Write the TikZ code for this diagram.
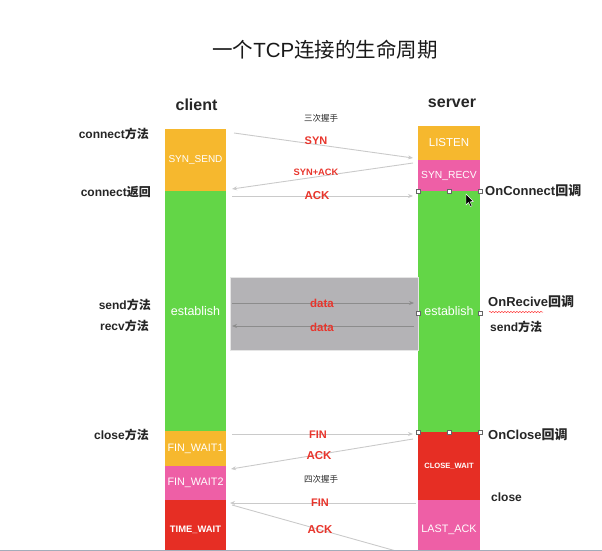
\documentclass[tikz,border=0pt]{standalone}
\usepackage{fontspec}
\setmainfont{Liberation Sans}
\newfontfamily\cjk{Noto Sans CJK SC}
\usepackage{tikz}
\usepackage{xcolor}
\usetikzlibrary{arrows.meta,decorations.pathmorphing}
\newcommand{\zh}[1]{{\cjk #1}}
\newcommand{\fs}[1]{\fontsize{#1}{#1}\selectfont}
\definecolor{stOrange}{HTML}{F6B82E}
\definecolor{stPink}{HTML}{EE5FA6}
\definecolor{stGreen}{HTML}{63D647}
\definecolor{stRed}{HTML}{E62E24}
\definecolor{boxGrey}{HTML}{B4B3B6}
\definecolor{msgRed}{HTML}{E8352C}
\definecolor{lineGrey}{HTML}{CACACA}
\definecolor{dataGrey}{HTML}{8C8C8C}
\definecolor{frameGrey}{HTML}{A3ACBA}
\tikzset{
  st/.style={inner sep=0,outer sep=0,minimum width=61pt,text=white,font=\fs{10}},
  msg/.style={draw=lineGrey,line width=0.9pt,-{Stealth[length=5pt,width=4pt]}},
  lbl/.style={text=msgRed,font=\bfseries\fs{11},inner sep=1pt},
  side/.style={text=black!85,font=\bfseries\fs{12},inner sep=1pt},
  handle/.style={draw=black!60,fill=white,line width=0.5pt,minimum size=4pt,inner sep=0,outer sep=0}
}
\begin{document}
\begin{tikzpicture}[x=1pt,y=-1pt]
\useasboundingbox (0,0) rectangle (602,551);
\clip (0,0) rectangle (602,551);
\node[font=\fs{20.5},text=black!90] (title) at (325,50) {\zh{一个}TCP\zh{连接的生命周期}};
\node[font=\bfseries\fs{16},text=black!85] (client) at (196.5,105) {client};
\node[font=\bfseries\fs{16},text=black!85] (server) at (452,103) {server};
% client states
\node[st,fill=stOrange,minimum height=62pt] (synsend) at (195.5,160) {SYN\_SEND};
\node[st,fill=stGreen,minimum height=240pt,font=\fs{12.5}] (cest) at (195.5,311) {establish};
\node[st,fill=stOrange,minimum height=35pt,font=\fs{10.8}] (finwaita) at (195.5,448.5) {FIN\_WAIT1};
\node[st,fill=stPink,minimum height=34pt,font=\fs{10.8}] (finwaitb) at (195.5,483) {FIN\_WAIT2};
\node[st,fill=stRed,minimum height=60pt,font=\bfseries\fs{9.4}] (timewait) at (195.5,530) {TIME\_WAIT};
% server states
\node[st,fill=stOrange,minimum width=62pt,minimum height=34pt,font=\fs{11.5}] (listen) at (449,143) {LISTEN};
\node[st,fill=stPink,minimum width=62pt,minimum height=31pt,font=\fs{10.3}] (synrecv) at (449,175.5) {SYN\_RECV};
\node[st,fill=stGreen,minimum width=62pt,minimum height=241pt,font=\fs{12.5}] (sest) at (449,311.5) {establish};
\node[st,fill=stRed,minimum width=62pt,minimum height=68pt,font=\bfseries\fs{7.6}] (closewait) at (449,466) {CLOSE\_WAIT};
\node[st,fill=stPink,minimum width=62pt,minimum height=60pt,font=\fs{10.8}] (lastack) at (449,530) {LAST\_ACK};
\node[fill=boxGrey,draw=black!10,minimum width=188pt,minimum height=73pt,inner sep=0] (databox) at (324,313.5) {};
% message ends
\coordinate (syn-a) at (234,133);  \coordinate (syn-b) at (413,158);
\coordinate (sa-a) at (413,163);   \coordinate (sa-b) at (232,189);
\coordinate (ack-a) at (232,196);  \coordinate (ack-b) at (413,196);
\coordinate (da-a) at (232,303);   \coordinate (da-b) at (414,303);
\coordinate (db-a) at (414,326);   \coordinate (db-b) at (232,326);
\coordinate (fa-a) at (232,434);   \coordinate (fa-b) at (413,434);
\coordinate (ka-a) at (413,439);   \coordinate (ka-b) at (231,469);
\coordinate (fb-a) at (416,503);   \coordinate (fb-b) at (230,503);
\coordinate (kb-a) at (232,505);   \coordinate (kb-b) at (414,556);
\draw[msg] (syn-a) -- (syn-b);
\draw[msg] (sa-a) -- (sa-b);
\draw[msg] (ack-a) -- (ack-b);
\draw[msg,draw=dataGrey] (da-a) -- (da-b);
\draw[msg,draw=dataGrey] (db-a) -- (db-b);
\draw[msg] (fa-a) -- (fa-b);
\draw[msg] (ka-a) -- (ka-b);
\draw[msg] (fb-a) -- (fb-b);
\draw[msg] (kb-a) -- (kb-b);
\node[font=\fs{8.5},text=black!85] (three) at (321,118) {\zh{三次握手}};
\node[lbl] (synlbl) at (316,141) {SYN};
\node[lbl,font=\bfseries\fs{9.3}] (salbl) at (316,172) {SYN+ACK};
\node[lbl,font=\bfseries\fs{11.5}] (acklbl) at (317,196) {ACK};
\node[lbl,font=\bfseries\fs{11.5}] (dalbl) at (322,303) {data};
\node[lbl,font=\bfseries\fs{11.5}] (dblbl) at (322,327) {data};
\node[lbl] (falbl) at (318,435) {FIN};
\node[lbl,font=\bfseries\fs{11.5}] (kalbl) at (319,456) {ACK};
\node[font=\fs{8.5},text=black!85] (four) at (321,479) {\zh{四次握手}};
\node[lbl] (fblbl) at (320,503) {FIN};
\node[lbl,font=\bfseries\fs{11.5}] (kblbl) at (320,530) {ACK};
% side notes
\node[side,anchor=east] (conn) at (150,134) {connect\zh{方法}};
\node[side,anchor=east] (connret) at (152,192) {connect\zh{返回}};
\node[side,anchor=east] (csend) at (152,305) {send\zh{方法}};
\node[side,anchor=east] (crecv) at (150,326) {recv\zh{方法}};
\node[side,anchor=east] (cclose) at (150,435) {close\zh{方法}};
\node[side,anchor=west,font=\bfseries\fs{13}] (onconn) at (484,191) {OnConnect\zh{回调}};
\node[side,anchor=west,font=\bfseries\fs{13}] (onrecv) at (487,302) {OnRecive\zh{回调}};
\node[side,anchor=west] (ssend) at (489,327) {send\zh{方法}};
\node[side,anchor=west,font=\bfseries\fs{13}] (onclose) at (487,435) {OnClose\zh{回调}};
\node[side,anchor=west] (sclose) at (490,497) {close};
\draw[red!80,line width=0.5pt,decorate,decoration={snake,amplitude=0.6pt,segment length=3pt}] (489,312) -- (543,312);
\foreach \i/\p in {1/{(418,191)},2/{(449,191)},3/{(480,191)},4/{(418,313)},5/{(480,313)},6/{(418,432)},7/{(449,432)},8/{(480,432)}}{
  \node[handle] (h\i) at \p {};
}
\filldraw[fill=black,draw=white,line width=0.4pt] (466,194) -- (466,205) -- (468.5,202.5) -- (470.5,206.5) -- (472,205.8) -- (470,201.8) -- (473.5,201.5) -- cycle;
\draw[frameGrey,line width=2pt] (0,550.5) -- (602,550.5);
\end{tikzpicture}
\end{document}
